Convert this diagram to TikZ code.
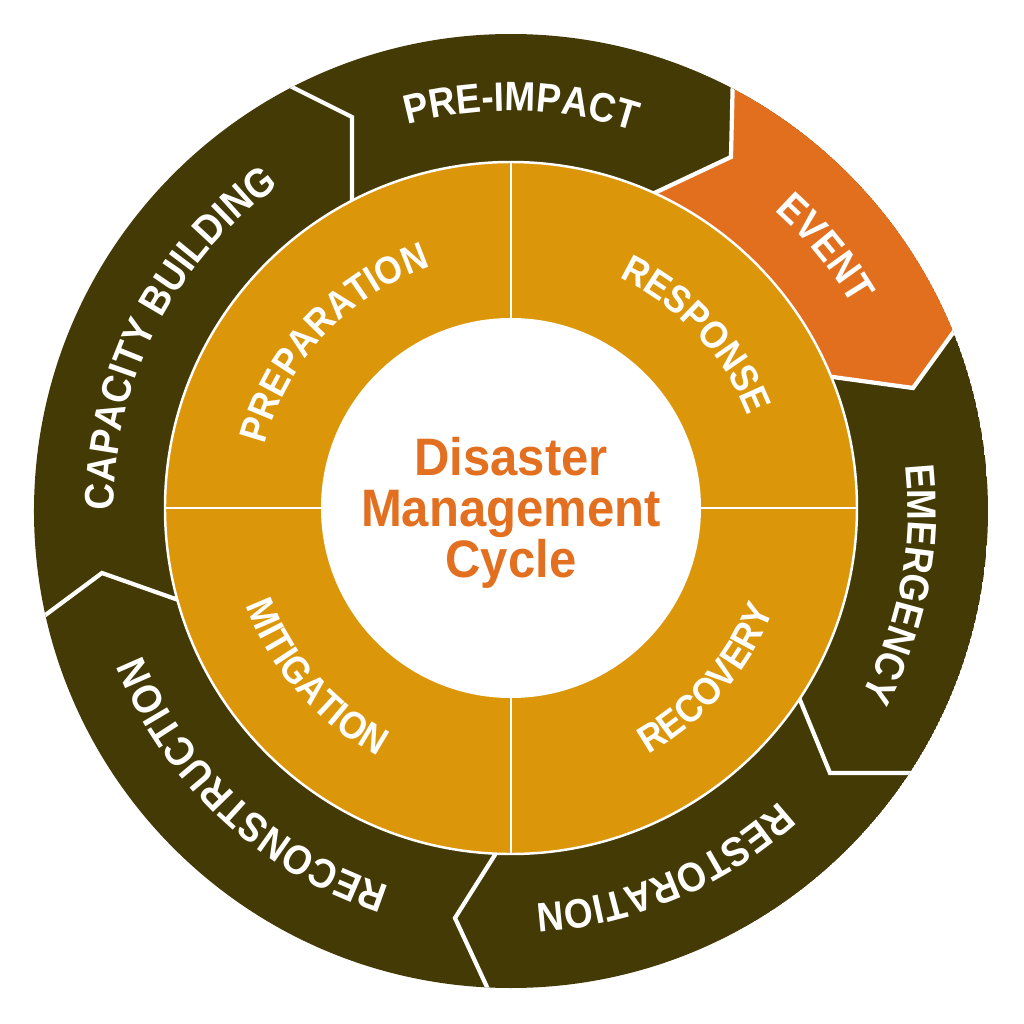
\documentclass[tikz,border=0pt]{standalone}
\usepackage{fontspec}
\setmainfont{Liberation Sans}
\newfontfamily\narrowfont{Liberation Sans}[FakeStretch=0.9]
\newfontfamily\titlefont{Liberation Sans}[FakeStretch=0.93]
\usetikzlibrary{decorations.text}

\definecolor{ringdark}{RGB}{67,58,5}
\definecolor{ringorange}{RGB}{219,150,10}
\definecolor{eventorange}{RGB}{225,111,30}
\definecolor{titleorange}{RGB}{226,112,32}

\newcommand{\ringfont}{\narrowfont\fontsize{11.7}{13}\selectfont\bfseries}
\newcommand{\phasefont}{\narrowfont\fontsize{11}{13}\selectfont\bfseries}

\begin{document}
\begin{tikzpicture}[
  font=\bfseries,
  arclabel/.style={decorate, decoration={text along path, text align=center, text color=white}},
  divider/.style={white, line width=1.2pt, line join=miter}
]

\useasboundingbox (-5.11,-5.16) rectangle (5.13,5.08);

% ------------------- Outer ring ------------------- %
\begin{scope}
  \clip (0,-0.03) circle (4.77);
  \fill[ringdark] (0,-0.03) circle (4.77);

  % Event segment
  \fill[eventorange] (2.24,5.2) -- (2.20,3.51) -- (1.44,3.15) -- (0,0)
    -- (3.21,1.31) -- (4.02,1.20) -- (5.07,2.65) -- cycle;

  % Chevron dividers between the stages
  \draw[divider] (-2.87,4.55) -- (-1.59,3.91) -- (-1.59,2.9);
  \draw[divider] (2.24,5.2) -- (2.20,3.51) -- (1.2,3.04);
  \draw[divider] (5.07,2.65) -- (4.02,1.20) -- (3.0,1.34);
  \draw[divider] (5.0,-2.65) -- (3.19,-2.65) -- (2.8,-1.70);
  \draw[divider] (-0.05,-5.2) -- (-0.56,-4.10) -- (-0.06,-3.31);
  \draw[divider] (-5.1,-1.40) -- (-4.09,-0.65) -- (-3.1,-1.0);
\end{scope}

% ------------------- Inner ring ------------------- %
\fill[ringorange, draw=white, line width=0.7pt] (0,0) circle (3.46);
\draw[white, line width=0.7pt] (-3.46,0) -- (3.46,0);
\draw[white, line width=0.7pt] (0,-3.46) -- (0,3.46);
\fill[white] (0,0) circle (1.90);

% Title
\node[text=titleorange, align=center, font=\titlefont\fontsize{15}{14.5}\selectfont\bfseries] (title) at (0,-0.05) {Disaster\\Management\\Cycle};

% Outer labels (clockwise)
\path[arclabel, decoration={text={|\ringfont|PRE-IMPACT}}] (168.5:3.97) arc[start angle=168.5, end angle=8.5, radius=3.97];
\path[arclabel, decoration={text={|\ringfont|EVENT}}] (119.5:3.97) arc[start angle=119.5, end angle=-40.5, radius=3.97];
\path[arclabel, decoration={text={|\ringfont|EMERGENCY}}] (69:3.97) arc[start angle=69, end angle=-91, radius=3.97];
\path[arclabel, decoration={text={|\ringfont|RESTORATION}}] (13:3.97) arc[start angle=13, end angle=-147, radius=3.97];
\path[arclabel, decoration={text={|\ringfont|RECONSTRUCTION}}] (307:3.97) arc[start angle=307, end angle=147, radius=3.97];
\path[arclabel, decoration={text={|\ringfont|CAPACITY BUILDING}}] (233:3.97) arc[start angle=233, end angle=73, radius=3.97];

% Inner labels
\path[arclabel, decoration={text={|\phasefont|PREPARATION}}] (217:2.54) arc[start angle=217, end angle=57, radius=2.54];
\path[arclabel, decoration={text={|\phasefont|RESPONSE}}] (123:2.54) arc[start angle=123, end angle=-37, radius=2.54];
\path[arclabel, decoration={text={|\phasefont|RECOVERY}}] (-121:2.82) arc[start angle=-121, end angle=39, radius=2.82];
\path[arclabel, decoration={text={|\phasefont|MITIGATION}}] (141:2.82) arc[start angle=141, end angle=301, radius=2.82];

\end{tikzpicture}
\end{document}
